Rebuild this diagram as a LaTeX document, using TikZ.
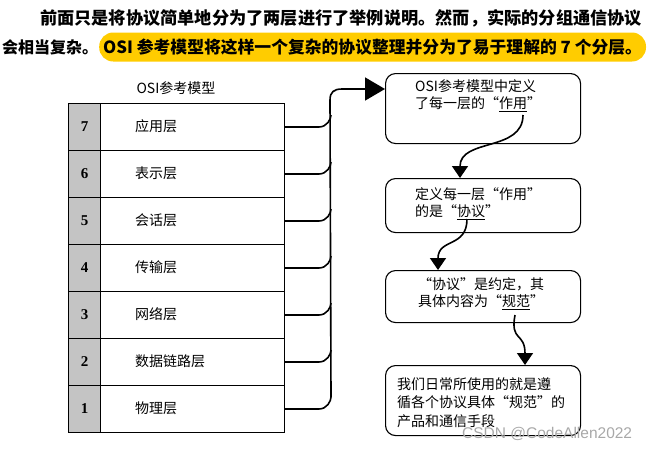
\documentclass[tikz,border=0pt]{standalone}
\usepackage{fontspec}
\setmainfont{Noto Sans CJK SC}
\newfontfamily\serifnum{Liberation Serif}
\newfontfamily\wmfont{Liberation Sans}
\usetikzlibrary{arrows.meta}
\definecolor{hl}{HTML}{FFCC00}
\definecolor{cellgray}{HTML}{C4C4C4}
\definecolor{wmgray}{HTML}{A8A8A8}
\begin{document}
\begin{tikzpicture}[x=1pt,y=-1pt,
  layer/.style={draw, line width=1pt, minimum width=184pt, minimum height=47pt, anchor=north west, inner sep=0pt},
  numcell/.style={draw, line width=1pt, fill=cellgray, minimum width=32pt, minimum height=47pt, anchor=north west, inner sep=0pt, font=\serifnum\bfseries\fontsize{15}{15}\selectfont},
  lname/.style={anchor=west, inner sep=0pt, font=\fontsize{14}{14}\selectfont},
  note/.style={draw, line width=1.1pt, rounded corners=10pt, minimum width=195pt, anchor=north west, inner sep=0pt},
  notetext/.style={anchor=north west, align=left, inner sep=0pt, font=\fontsize{14}{17.5}\selectfont},
  conn/.style={line width=1.6pt},
  flow/.style={line width=1.6pt, -{Triangle[length=12pt,width=16pt]}},
]
\useasboundingbox (0,0) rectangle (648,450);

% top paragraph
\node[anchor=west, inner sep=0pt, font=\bfseries\fontsize{17.2}{17.2}\selectfont] (l1) at (40,18) {前面只是将协议简单地分为了两层进行了举例说明。然而，实际的分组通信协议};
\node[anchor=west, inner sep=0pt, font=\bfseries\fontsize{16}{16}\selectfont] (l2a) at (2,47) {会相当复杂。};
\node[anchor=west, fill=hl, rounded corners=14pt, minimum height=29pt, inner xsep=4pt, inner ysep=0pt, font=\bfseries\fontsize{16.8}{16.8}\selectfont] (l2b) at (99,47) {OSI 参考模型将这样一个复杂的协议整理并分为了易于理解的 7 个分层。};

% OSI table
\node[font=\fontsize{14}{14}\selectfont] (title) at (176,88) {OSI参考模型};
\foreach \k/\nm [evaluate=\k as \yt using 103+(7-\k)*47] in {7/应用层,6/表示层,5/会话层,4/传输层,3/网络层,2/数据链路层,1/物理层}{
  \node[numcell] (num\k) at (68,\yt) {\k};
  \node[layer] (row\k) at (100,\yt) {};
  \node[lname] (name\k) at (135,\yt+23.5) {\nm};
}

% right boxes
\node[note, minimum height=70pt] (b1) at (385,73) {};
\node[note, minimum height=54pt] (b2) at (385,178) {};
\node[note, minimum height=52pt] (b3) at (385,270) {};
\node[note, minimum height=70pt] (b4) at (385,365) {};

\node[notetext] (t1) at (415,79) {OSI参考模型中定义\\了每一层的“\underline{作用}”};
\node[notetext] (t2) at (415,187) {定义每一层“作用”\\的是“\underline{协议}”};
\node[notetext, anchor=north, align=center] (t3) at (481,277) {“协议”是约定，其\\具体内容为“\underline{规范}”};
\node[notetext, font=\fontsize{14}{18.5}\selectfont] (t4) at (397,377) {我们日常所使用的就是遵\\循各个协议具体“规范”的\\产品和通信手段};

% connectors from layers
\coordinate (arrowy) at (0,89);
\coordinate (vtop) at (330,100);
\foreach \k in {7,6,5,4,3,2}{
  \draw[conn] (row\k.east) -- ++(34,0) .. controls +(8,0) and +(0,4) .. ++(12,-12);
}
\draw[conn, -{Triangle[length=20pt,width=23pt]}] (row1.east) -- ++(34,0) .. controls +(8,0) and +(0,4) .. ++(12,-12) -- (vtop) .. controls (330,92) and (334,89) .. (342,89) -- (b1.west |- arrowy);

% flow arrows between boxes
\coordinate (u1) at (523,115);
\coordinate (e1) at (460,178);
\coordinate (u2) at (467,219);
\coordinate (e2) at (438,270);
\coordinate (u3) at (515,315);
\coordinate (e3) at (525,365);
\draw[flow] (u1) .. controls (523,152) and (460,138) .. (e1);
\draw[flow] (u2) .. controls (467,248) and (438,238) .. (e2);
\draw[flow] (u3) .. controls (510,342) and (525,332) .. (e3);

% watermark
\node[anchor=west, inner sep=0pt, text=wmgray, font=\wmfont\fontsize{15.5}{15.5}\selectfont] (wm) at (462,434) {CSDN @CodeAllen2022};
\end{tikzpicture}
\end{document}
